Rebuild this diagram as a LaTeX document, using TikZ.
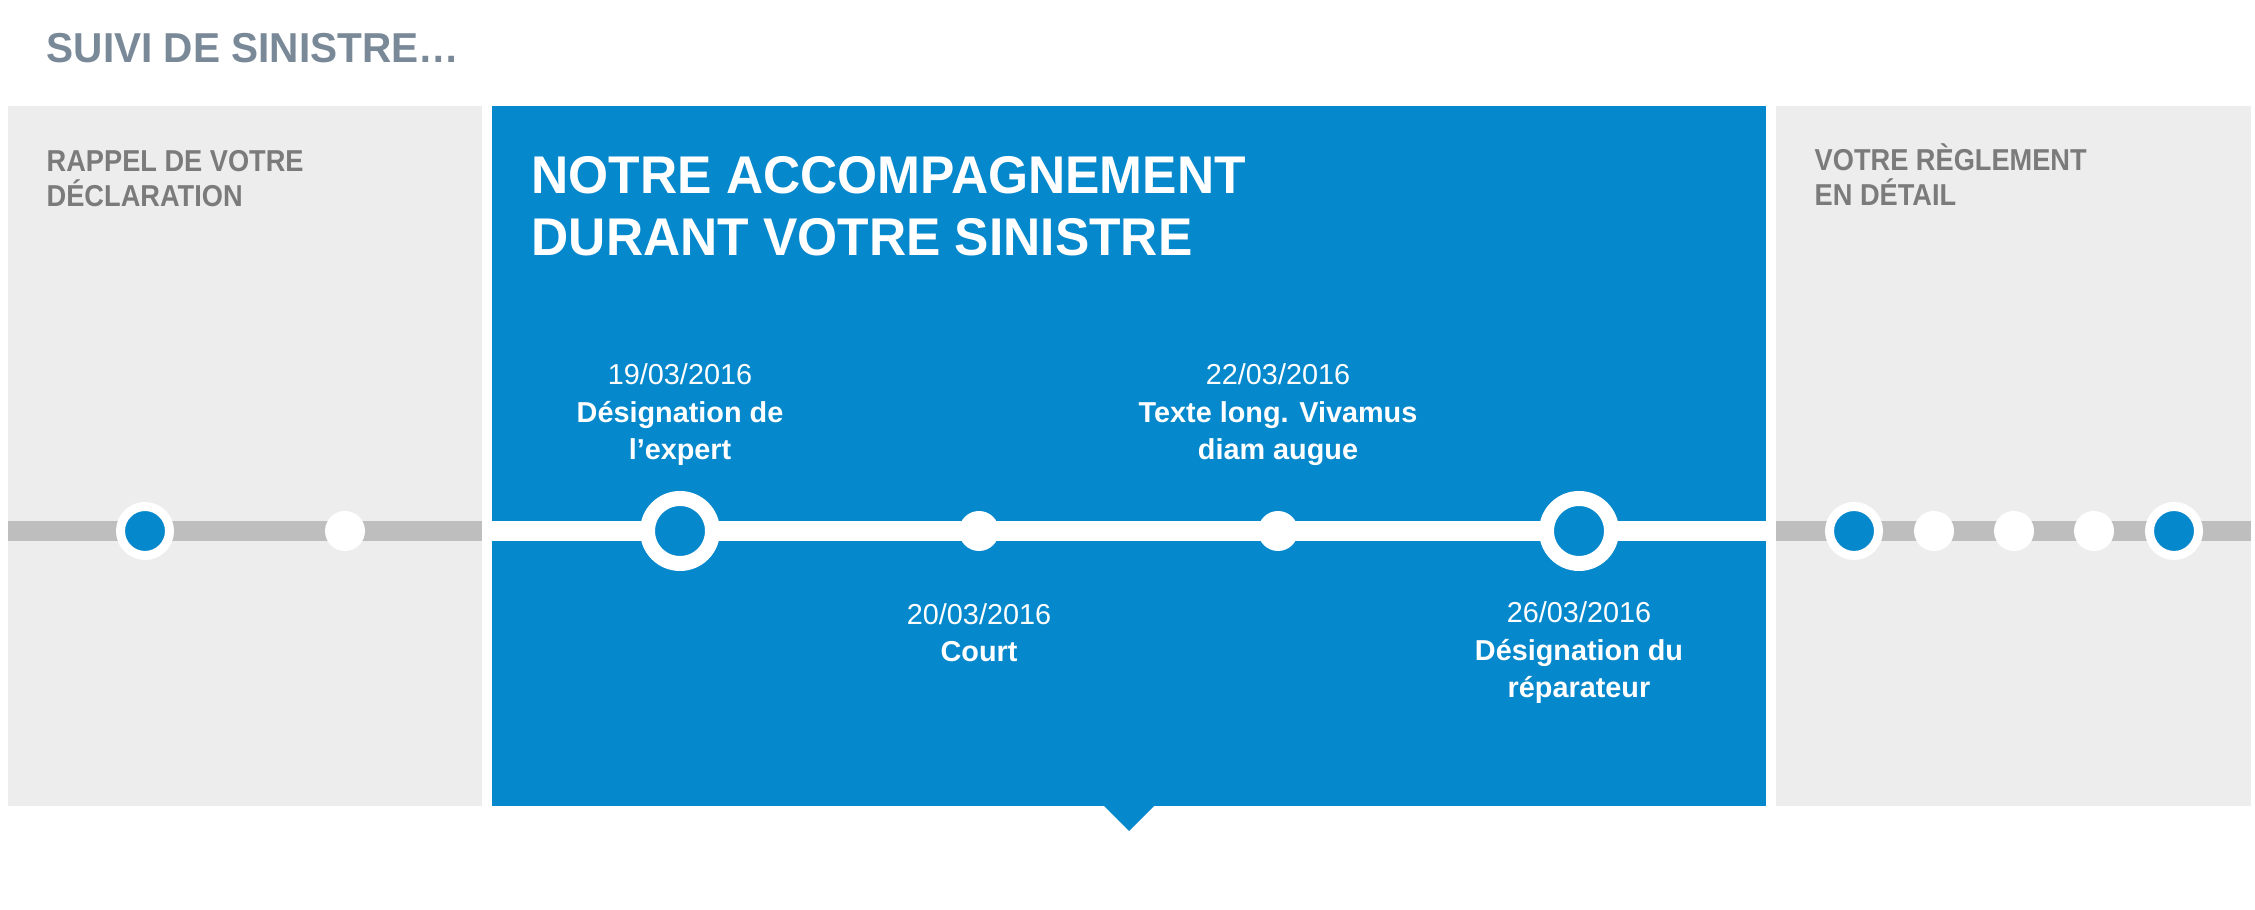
\documentclass[tikz,border=0pt]{standalone}
\usepackage{fontspec}
\setmainfont{Liberation Sans}
\newfontfamily\headfont[FakeStretch=0.97]{Liberation Sans}
\newfontfamily\sidefont[FakeStretch=0.90]{Liberation Sans}
\usepackage{tikz}
\usetikzlibrary{positioning}
\definecolor{suiviblue}{RGB}{6,136,204}
\definecolor{panelgray}{RGB}{237,237,237}
\definecolor{linegray}{RGB}{190,190,190}
\definecolor{headgray}{RGB}{123,123,123}
\definecolor{titlegray}{RGB}{122,137,152}

\begin{document}
\begin{tikzpicture}[
  dotwhite/.style={circle,fill=white,inner sep=0pt,minimum size=0.40cm},
  dotblue/.style={circle,fill=suiviblue,draw=white,line width=0.09cm,inner sep=0pt,minimum size=0.49cm},
  ringbig/.style={circle,fill=suiviblue,draw=white,line width=0.15cm,inner sep=0pt,minimum size=0.65cm},
  sidehead/.style={anchor=base west,align=left,inner sep=0pt,text=headgray,
    font=\sidefont\bfseries\fontsize{8.6}{10}\selectfont},
  eventlbl/.style={anchor=base,align=center,inner sep=0pt,text=white,
    font=\fontsize{8.2}{10.7}\selectfont},
  ]
  \useasboundingbox (0,0) rectangle (22.55,9.10);

  % Page title
  \node[anchor=base west,inner sep=0pt,text=titlegray,font=\headfont\bfseries\fontsize{11.9}{14}\selectfont]
    (title) at (0.46,8.47) {SUIVI DE SINISTRE…};

  % Left panel: declaration
  \fill[panelgray] (0.08,1.04) rectangle (4.82,8.04);
  \node[sidehead] (rappel) at (0.46,7.03) {RAPPEL DE VOTRE\\DÉCLARATION};
  \coordinate (lstart) at (0.08,3.79);
  \coordinate (lend) at (4.82,3.79);
  \draw[linegray,line width=0.2cm] (lstart) -- (lend);
  \node[dotblue] (la) at (1.45,3.79) {};
  \node[dotwhite] (lb) at (3.45,3.79) {};

  % Middle panel: timeline of the claim
  \fill[suiviblue] (4.92,1.04) rectangle (17.66,8.04);
  \fill[suiviblue] (11.04,1.04) -- (11.29,0.79) -- (11.54,1.04) -- cycle;
  \node[anchor=base west,align=left,inner sep=0pt,text=white,
    font=\headfont\bfseries\fontsize{15.1}{17.9}\selectfont]
    (notre) at (5.31,6.54) {NOTRE ACCOMPAGNEMENT\\DURANT VOTRE SINISTRE};
  \coordinate (mstart) at (4.92,3.79);
  \coordinate (mend) at (17.66,3.79);
  \draw[white,line width=0.2cm] (mstart) -- (mend);
  \node[ringbig] (ev1) at (6.80,3.79) {};
  \node[dotwhite] (ev2) at (9.79,3.79) {};
  \node[dotwhite] (ev3) at (12.78,3.79) {};
  \node[ringbig] (ev4) at (15.79,3.79) {};
  \node[eventlbl] (lbl1) at (6.80,4.50) {19/03/2016\\\textbf{Désignation de}\\\textbf{l’expert}};
  \node[eventlbl] (lbl2) at (9.79,2.48) {20/03/2016\\\textbf{Court}};
  \node[eventlbl] (lbl3) at (12.78,4.50) {22/03/2016\\\textbf{Texte long. Vivamus}\\\textbf{diam augue}};
  \node[eventlbl] (lbl4) at (15.79,2.12) {26/03/2016\\\textbf{Désignation du}\\\textbf{réparateur}};

  % Right panel: settlement
  \fill[panelgray] (17.76,1.04) rectangle (22.51,8.04);
  \node[sidehead] (votre) at (18.14,7.04) {VOTRE RÈGLEMENT\\EN DÉTAIL};
  \coordinate (rstart) at (17.76,3.79);
  \coordinate (rend) at (22.51,3.79);
  \draw[linegray,line width=0.2cm] (rstart) -- (rend);
  \node[dotblue] (ra) at (18.54,3.79) {};
  \foreach \x/\n in {19.34/rb,20.14/rc,20.94/rd}{
    \node[dotwhite] (\n) at (\x,3.79) {};
  }
  \node[dotblue] (re) at (21.74,3.79) {};

\end{tikzpicture}
\end{document}
